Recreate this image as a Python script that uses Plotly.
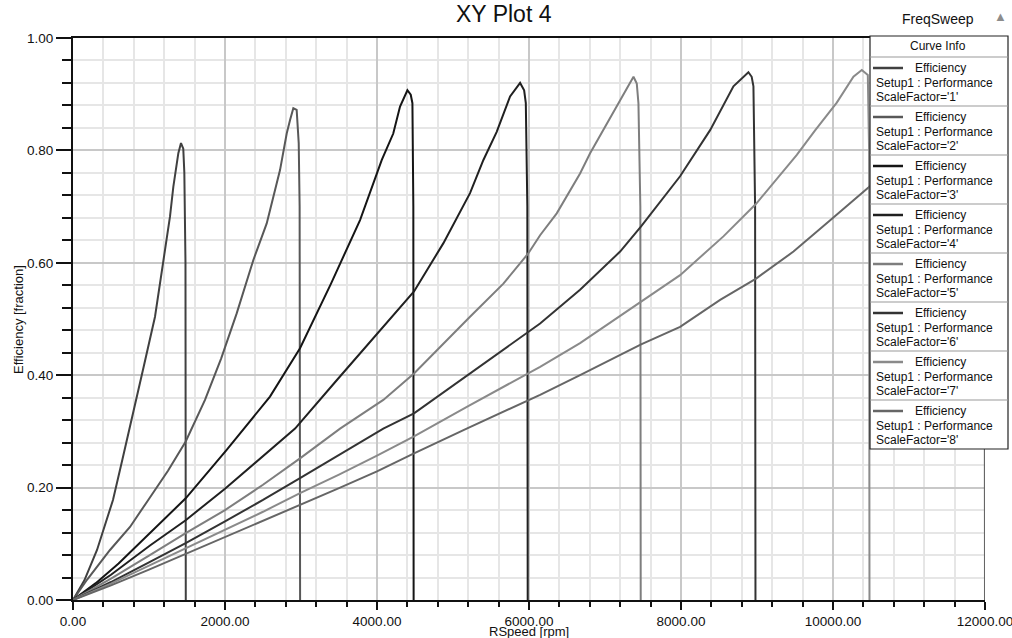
import plotly.graph_objects as go

# ---------------- data ----------------
rpm_1 = [0, 150, 316, 447, 526, 650, 790, 930, 1079, 1188, 1276, 1320, 1386, 1421, 1451, 1465, 1480, 1484]
eff_1 = [0, 0.035, 0.089, 0.142, 0.178, 0.25, 0.33, 0.415, 0.504, 0.599, 0.682, 0.735, 0.795, 0.813, 0.803, 0.76, 0.60, 0.0]

rpm_2 = [0, 184, 487, 750, 990, 1250, 1483, 1737, 1950, 2154, 2373, 2549, 2724, 2812, 2856, 2899, 2943, 2970, 2982, 2988]
eff_2 = [0, 0.036, 0.089, 0.13, 0.178, 0.23, 0.282, 0.356, 0.43, 0.51, 0.605, 0.67, 0.765, 0.83, 0.854, 0.875, 0.872, 0.813, 0.70, 0.0]

rpm_3 = [0, 300, 600, 1013, 1483, 2022, 2592, 2987, 3395, 3777, 4063, 4214, 4303, 4400, 4444, 4466, 4478, 4482]
eff_3 = [0, 0.03, 0.065, 0.119, 0.181, 0.267, 0.362, 0.448, 0.563, 0.676, 0.783, 0.830, 0.878, 0.907, 0.899, 0.884, 0.70, 0.0]

rpm_4 = [0, 500, 1013, 1483, 2000, 2450, 2922, 3470, 4040, 4487, 4874, 5224, 5400, 5575, 5751, 5883, 5936, 5958, 5978, 5983]
eff_4 = [0, 0.045, 0.097, 0.142, 0.198, 0.25, 0.305, 0.391, 0.48, 0.549, 0.635, 0.724, 0.783, 0.833, 0.896, 0.920, 0.907, 0.884, 0.70, 0.0]

rpm_5 = [0, 500, 1000, 1483, 2000, 2500, 2987, 3514, 4083, 4487, 5224, 5663, 5992, 6146, 6365, 6672, 6804, 7199, 7375, 7418, 7440, 7465, 7470]
eff_5 = [0, 0.038, 0.079, 0.119, 0.16, 0.205, 0.252, 0.305, 0.356, 0.403, 0.504, 0.563, 0.617, 0.649, 0.688, 0.759, 0.795, 0.890, 0.931, 0.919, 0.884, 0.70, 0.0]

rpm_6 = [0, 500, 1000, 1483, 2000, 2500, 2987, 3500, 4083, 4487, 5224, 5992, 6146, 6672, 7199, 7475, 7988, 8383, 8690, 8887, 8930, 8953, 8975, 8980]
eff_6 = [0, 0.032, 0.067, 0.101, 0.14, 0.178, 0.217, 0.258, 0.305, 0.332, 0.403, 0.478, 0.492, 0.552, 0.620, 0.665, 0.754, 0.836, 0.914, 0.939, 0.931, 0.914, 0.70, 0.0]

rpm_7 = [0, 500, 1000, 1483, 2000, 2500, 2987, 3500, 4000, 4487, 5200, 5992, 6146, 6672, 7475, 7988, 8558, 8988, 9524, 9767, 10050, 10269, 10379, 10458, 10475, 10480]
eff_7 = [0, 0.029, 0.061, 0.092, 0.125, 0.157, 0.19, 0.223, 0.257, 0.291, 0.345, 0.403, 0.415, 0.457, 0.530, 0.578, 0.647, 0.705, 0.792, 0.836, 0.885, 0.931, 0.943, 0.934, 0.80, 0.0]

rpm_8 = [0, 500, 1000, 1483, 2000, 2500, 2987, 3500, 4000, 4487, 5180, 5992, 6146, 6672, 7475, 7988, 8515, 8988, 9480, 9967, 10466, 11000, 11500, 11800, 11900, 11970, 11995, 12000]
eff_8 = [0, 0.026, 0.054, 0.082, 0.112, 0.14, 0.169, 0.199, 0.229, 0.261, 0.305, 0.356, 0.365, 0.400, 0.455, 0.486, 0.534, 0.572, 0.620, 0.676, 0.734, 0.80, 0.87, 0.925, 0.94, 0.92, 0.70, 0.0]

scale_factors = ["1", "2", "3", "4", "5", "6", "7", "8"]
curve_colors = ["#404040", "#585858", "#151515", "#202020", "#7e7e7e", "#333333", "#8a8a8a", "#666666"]

x_range = [0, 12000]
y_range = [0, 1]
x_title = "RSpeed [rpm]"
y_title = "Efficiency [fraction]"
plot_title = "XY Plot 4"
sweep_label = "FreqSweep"
legend_header = "Curve Info"
legend_line1 = "Efficiency"
legend_line2 = "Setup1 : Performance"

series_rpm = [rpm_1, rpm_2, rpm_3, rpm_4, rpm_5, rpm_6, rpm_7, rpm_8]
series_eff = [eff_1, eff_2, eff_3, eff_4, eff_5, eff_6, eff_7, eff_8]

# ---------------- figure ----------------
W, H = 1012, 638
L, R, T, B = 73, 985, 38, 600
FONT = "Liberation Sans, Arial, sans-serif"


def px(x):
    return (x - L) / (R - L)


def py(y):
    return (B - y) / (B - T)


fig = go.Figure()
for k, (xs, ys) in enumerate(zip(series_rpm, series_eff)):
    fig.add_trace(go.Scatter(
        x=xs, y=ys, mode="lines",
        line=dict(color=curve_colors[k], width=2),
        name=f"ScaleFactor='{scale_factors[k]}'",
        showlegend=False, hoverinfo="skip",
    ))

shapes = []
annotations = []

# legend box
box_l, box_r = 870, 1008
hdr_top, hdr_bot = 36, 57
row_h = 49
n = len(scale_factors)
shapes.append(dict(type="rect", xref="paper", yref="paper",
                   x0=px(box_l), x1=px(box_r), y0=py(hdr_bot + n * row_h), y1=py(hdr_top),
                   fillcolor="white", line=dict(color="#222222", width=1.2), layer="above"))
annotations.append(dict(xref="paper", yref="paper", x=px(938), y=py(46.5), text=legend_header,
                        showarrow=False, xanchor="center", yanchor="middle",
                        font=dict(family=FONT, size=12, color="#111111")))
for k in range(n):
    top = hdr_bot + k * row_h
    shapes.append(dict(type="line", xref="paper", yref="paper",
                       x0=px(box_l), x1=px(box_r), y0=py(top), y1=py(top),
                       line=dict(color="#9a9a9a", width=1.2), layer="above"))
    shapes.append(dict(type="line", xref="paper", yref="paper",
                       x0=px(873), x1=px(903), y0=py(top + 11), y1=py(top + 11),
                       line=dict(color=curve_colors[k], width=2.5), layer="above"))
    annotations.append(dict(xref="paper", yref="paper", x=px(940), y=py(top + 11),
                            text=legend_line1, showarrow=False, xanchor="center", yanchor="middle",
                            font=dict(family=FONT, size=12, color="#111111")))
    annotations.append(dict(xref="paper", yref="paper", x=px(874), y=py(top + 25.5),
                            text=legend_line2, showarrow=False, xanchor="left", yanchor="middle",
                            font=dict(family=FONT, size=12, color="#111111")))
    annotations.append(dict(xref="paper", yref="paper", x=px(874), y=py(top + 40),
                            text=f"ScaleFactor='{scale_factors[k]}'", showarrow=False,
                            xanchor="left", yanchor="middle",
                            font=dict(family=FONT, size=12, color="#111111")))

# header texts
annotations.append(dict(xref="paper", yref="paper", x=px(938), y=py(19), text=sweep_label,
                        showarrow=False, xanchor="center", yanchor="middle",
                        font=dict(family=FONT, size=14, color="#111111")))
annotations.append(dict(xref="paper", yref="paper", x=px(1000), y=py(16), text="▲",
                        showarrow=False, xanchor="center", yanchor="middle",
                        font=dict(family=FONT, size=13, color="#8c8c8c")))
annotations.append(dict(xref="paper", yref="paper", x=px(504), y=py(14), text=plot_title,
                        showarrow=False, xanchor="center", yanchor="middle",
                        font=dict(family=FONT, size=23, color="#111111")))
# axis titles
annotations.append(dict(xref="paper", yref="paper", x=px(529), y=py(631), text=x_title,
                        showarrow=False, xanchor="center", yanchor="middle",
                        font=dict(family=FONT, size=13, color="#111111")))
annotations.append(dict(xref="paper", yref="paper", x=px(18), y=py(320), text=y_title,
                        showarrow=False, xanchor="center", yanchor="middle", textangle=-90,
                        font=dict(family=FONT, size=13, color="#111111")))

fig.update_layout(
    width=W, height=H,
    margin=dict(l=L, r=W - R, t=T, b=H - B, pad=0, autoexpand=False),
    paper_bgcolor="white", plot_bgcolor="white",
    font=dict(family=FONT, size=13, color="#111111"),
    shapes=shapes, annotations=annotations,
    showlegend=False,
)
fig.update_xaxes(
    range=x_range, dtick=2000, tick0=0, tickformat=".2f", automargin=False,
    showline=True, linecolor="#111111", linewidth=2, mirror=True,
    ticks="outside", ticklen=8, tickwidth=1.5, tickcolor="#111111",
    showgrid=True, gridcolor="#c8c8c8", gridwidth=1.5, zeroline=False,
    ticklabeloverflow="allow",
    tickfont=dict(family=FONT, size=13.5, color="#111111"),
    minor=dict(dtick=400, ticks="outside", ticklen=5, tickwidth=1.5, tickcolor="#111111",
               showgrid=True, gridcolor="#e6e6e6", gridwidth=1.5),
)
fig.update_yaxes(
    range=y_range, dtick=0.2, tick0=0, tickformat=".2f", automargin=False,
    showline=True, linecolor="#111111", linewidth=2, mirror=False,
    ticks="outside", ticklen=15, tickwidth=1.5, tickcolor="#111111",
    showgrid=True, gridcolor="#c8c8c8", gridwidth=1.5, zeroline=False,
    ticklabeloverflow="allow",
    tickfont=dict(family=FONT, size=13.5, color="#111111"),
    minor=dict(dtick=0.04, ticks="outside", ticklen=9, tickwidth=1.5, tickcolor="#111111",
               showgrid=True, gridcolor="#e6e6e6", gridwidth=1.5),
)

fig.write_html(
    "out.html",
    config={"displayModeBar": False},
    post_script="document.body.style.margin='0';document.body.style.padding='0';",
)
